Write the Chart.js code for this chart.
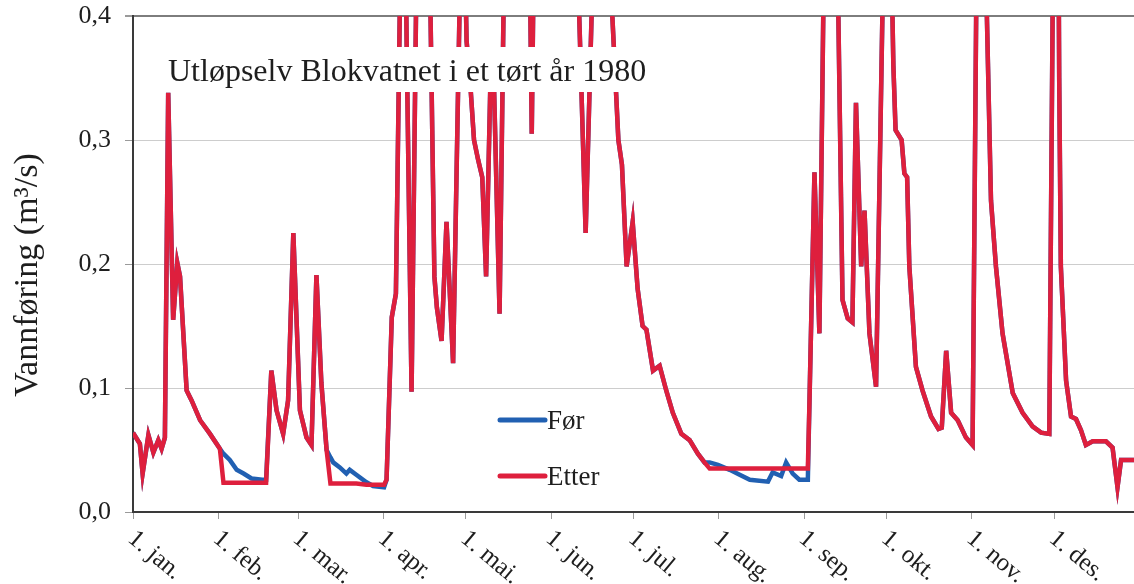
<!DOCTYPE html>
<html lang="no">
<head>
<meta charset="utf-8">
<title>Utløpselv Blokvatnet 1980</title>
<script src="https://cdn.jsdelivr.net/npm/chart.js@4.4.1/dist/chart.umd.min.js"></script>
<style>
  html, body { margin: 0; padding: 0; background: #fff; overflow: hidden; }
  #boks { position: relative; width: 1134px; height: 584px; }
</style>
</head>
<body>
<div id="boks"><canvas id="vannforing"></canvas></div>
<script>
// ============================================
// DATA — døgnverdier (dag nr. fra 1. jan. 1980) i m³/s
// Før og Etter er like utenom lavvannsperiodene
// ============================================
const dager = [
  0, 2.5, 3.5, 5.6, 7.4, 9.2, 10.4, 11.6, 12.8, 14.6, 16.1, 17.1, 19.5, 21.3, 24.4, 28.0,
  31.6, 32.9, 35.2, 37.7, 40.2, 43.1, 47.0, 48.4,
  50.3, 52.2, 54.6, 56.4, 58.3, 60.7, 63.1, 64.9, 66.7, 68.5,
  70.4, 71.8, 72.8, 75.2, 77.6, 78.8, 81.2, 84.9, 87.3, 91.3,
  92.2, 94.1, 95.6, 97.3, 98.3, 99.5, 101.3, 102.9, 104.5, 105.5, 108.2, 109.6, 110.5,
  112.2, 114.0, 116.4, 118.7, 119.8, 121.3, 122.8, 124.0, 125.5, 127.0, 128.4, 130.2,
  131.2, 133.3, 135.0, 136.5, 141.0, 144.0, 145.0, 146.0, 150.0, 158.0, 162.0, 164.6,
  167.0, 169.0, 172.5, 174.3, 176.5, 177.8, 179.5, 181.7, 183.5, 185.3, 186.7, 189.1,
  191.5, 193.9, 196.3, 199.4, 202.4, 205.4,
  207.8, 209.7, 212.7, 217.0, 220.6, 224.3, 230.9, 232.6, 235.7, 237.5, 239.9, 242.3, 245.4,
  246.0, 247.8, 249.6, 251.0, 253.5, 256.5, 258.0, 259.9, 261.6, 262.9, 264.8, 266.0,
  267.8, 270.2, 272.5, 274.5, 276.5, 277.3, 279.5, 280.5, 281.5, 282.3, 284.7, 287.1,
  290.2, 292.9, 294.1, 295.7, 297.5, 299.9, 302.9, 305.3, 306.6, 308.5, 310.5, 312.0,
  313.8, 316.2, 319.9, 323.5, 327.1, 330.2, 333.2, 334.4, 335.5, 336.8, 337.4, 339.3,
  341.1, 342.9, 344.7, 346.5, 349.0, 353.8, 356.2, 358.0, 359.3, 364.0
];

const foer = [
  0.064, 0.055, 0.031, 0.062, 0.048, 0.058, 0.051, 0.060, 0.338, 0.155, 0.201, 0.190, 0.098, 0.090, 0.074, 0.063,
  0.051, 0.047, 0.042, 0.034, 0.031, 0.027, 0.026, 0.026,
  0.114, 0.082, 0.063, 0.090, 0.225, 0.082, 0.060, 0.054, 0.191, 0.104,
  0.050, 0.044, 0.040, 0.036, 0.031, 0.034, 0.030, 0.024, 0.021, 0.020,
  0.026, 0.157, 0.176, 0.45, 0.60, 0.38, 0.097, 0.40, 0.70, 0.80, 0.40, 0.19, 0.165,
  0.138, 0.234, 0.120, 0.40, 0.55, 0.38, 0.34, 0.30, 0.284, 0.270, 0.190, 0.370,
  0.350, 0.160, 0.45, 0.85, 0.90, 0.50, 0.305, 0.50, 0.95, 0.90, 0.42, 0.225,
  0.42, 0.80, 0.55, 0.40, 0.300, 0.280, 0.198, 0.234, 0.180, 0.150, 0.147, 0.114,
  0.118, 0.098, 0.080, 0.063, 0.058, 0.047,
  0.040, 0.040, 0.038, 0.034, 0.030, 0.026, 0.0245, 0.032, 0.029, 0.040, 0.031, 0.026, 0.026,
  0.090, 0.274, 0.144, 0.40, 0.65, 0.40, 0.171, 0.156, 0.153, 0.330, 0.198, 0.243,
  0.144, 0.101, 0.40, 0.60, 0.36, 0.308, 0.300, 0.273, 0.270, 0.198, 0.117, 0.098,
  0.077, 0.067, 0.068, 0.130, 0.080, 0.074, 0.060, 0.054, 0.40, 0.65, 0.40, 0.251,
  0.198, 0.144, 0.096, 0.080, 0.069, 0.064, 0.063, 0.40, 0.90, 0.35, 0.198, 0.106,
  0.077, 0.075, 0.066, 0.054, 0.057, 0.057, 0.052, 0.020, 0.042, 0.042
];

const etter = [
  0.064, 0.055, 0.031, 0.062, 0.048, 0.058, 0.051, 0.060, 0.338, 0.155, 0.201, 0.190, 0.098, 0.090, 0.074, 0.063,
  0.051, 0.0235, 0.0235, 0.0235, 0.0235, 0.0235, 0.0235, 0.0235,
  0.114, 0.082, 0.063, 0.090, 0.225, 0.082, 0.060, 0.054, 0.191, 0.104,
  0.050, 0.023, 0.023, 0.023, 0.023, 0.023, 0.023, 0.022, 0.022, 0.022,
  0.026, 0.157, 0.176, 0.45, 0.60, 0.38, 0.097, 0.40, 0.70, 0.80, 0.40, 0.19, 0.165,
  0.138, 0.234, 0.120, 0.40, 0.55, 0.38, 0.34, 0.30, 0.284, 0.270, 0.190, 0.370,
  0.350, 0.160, 0.45, 0.85, 0.90, 0.50, 0.305, 0.50, 0.95, 0.90, 0.42, 0.225,
  0.42, 0.80, 0.55, 0.40, 0.300, 0.280, 0.198, 0.234, 0.180, 0.150, 0.147, 0.114,
  0.118, 0.098, 0.080, 0.063, 0.058, 0.047,
  0.040, 0.035, 0.035, 0.035, 0.035, 0.035, 0.035, 0.035, 0.035, 0.035, 0.035, 0.035, 0.035,
  0.090, 0.274, 0.144, 0.40, 0.65, 0.40, 0.171, 0.156, 0.153, 0.330, 0.198, 0.243,
  0.144, 0.101, 0.40, 0.60, 0.36, 0.308, 0.300, 0.273, 0.270, 0.198, 0.117, 0.098,
  0.077, 0.067, 0.068, 0.130, 0.080, 0.074, 0.060, 0.054, 0.40, 0.65, 0.40, 0.251,
  0.198, 0.144, 0.096, 0.080, 0.069, 0.064, 0.063, 0.40, 0.90, 0.35, 0.198, 0.106,
  0.077, 0.075, 0.066, 0.054, 0.057, 0.057, 0.052, 0.020, 0.042, 0.042
];

// 1. i hver måned (1980 er skuddår)
const manedStart = [0, 31, 60, 91, 121, 152, 182, 213, 244, 274, 305, 335];
const manedNavn = ["1. jan.", "1. feb.", "1. mar.", "1. apr.", "1. mai.", "1. jun.",
                   "1. jul.", "1. aug.", "1. sep.", "1. okt.", "1. nov.", "1. des."];
const yTikker = [0, 0.1, 0.2, 0.3, 0.4];

const tittel = "Utløpselv Blokvatnet i et tørt år 1980";
const yTittel = "Vannføring (m³/s)";

const BLA = "#2160b2";
const ROD = "#de1f3d";
const SERIF = "'Liberation Serif', 'DejaVu Serif', serif";
const TEKST = "#1e1e1e";

// ============================================
// TEKST-PLUGIN — tittelboks, forklaring, skrå månedsnavn, y-tittel
// ============================================
const tekstPlugin = {
  id: "tekstPlugin",
  afterDatasetsDraw(chart) {
    const ctx = chart.ctx;
    ctx.save();
    // hvit boks bak tittelen skjuler kurvene
    ctx.fillStyle = "#fff";
    ctx.fillRect(164, 47, 484, 45);
    ctx.fillStyle = TEKST;
    ctx.font = `32px ${SERIF}`;
    ctx.textAlign = "left";
    ctx.textBaseline = "alphabetic";
    ctx.fillText(tittel, 168, 81);

    // forklaring
    const serier = chart.data.datasets;
    const rader = [420, 476];
    ctx.lineCap = "round";
    ctx.font = `27px ${SERIF}`;
    serier.forEach((ds, i) => {
      const y = rader[i];
      ctx.strokeStyle = ds.borderColor;
      ctx.lineWidth = 5;
      ctx.beginPath();
      ctx.moveTo(500, y);
      ctx.lineTo(545, y);
      ctx.stroke();
      ctx.fillStyle = TEKST;
      ctx.fillText(ds.label, 547, y + 9);
    });
    ctx.restore();
  },
  afterDraw(chart) {
    const ctx = chart.ctx;
    const xs = chart.scales.x;
    const area = chart.chartArea;
    ctx.save();
    ctx.fillStyle = TEKST;
    ctx.font = `25px ${SERIF}`;
    ctx.textAlign = "left";
    ctx.textBaseline = "top";
    manedStart.forEach((d, i) => {
      const x = xs.getPixelForValue(d);
      ctx.save();
      ctx.translate(x + 6, area.bottom + 14);
      ctx.rotate(40 * Math.PI / 180);
      ctx.fillText(manedNavn[i], 0, 0);
      ctx.restore();
    });

    // y-aksens tittel
    ctx.save();
    ctx.translate(37, 275);
    ctx.rotate(-Math.PI / 2);
    ctx.textAlign = "center";
    ctx.textBaseline = "alphabetic";
    ctx.font = `34px ${SERIF}`;
    ctx.fillText(yTittel, 0, 0);
    ctx.restore();
    ctx.restore();
  }
};

function punkter(verdier) {
  return dager.map((d, i) => ({ x: d, y: verdier[i] }));
}

const chart = new Chart(document.getElementById("vannforing"), {
  type: "line",
  data: {
    datasets: [
      { label: "Før", data: punkter(foer), borderColor: BLA, backgroundColor: BLA,
        borderWidth: 4.5, pointRadius: 0, tension: 0, clip: 0, order: 2 },
      { label: "Etter", data: punkter(etter), borderColor: ROD, backgroundColor: ROD,
        borderWidth: 4.5, pointRadius: 0, tension: 0, clip: 0, order: 1 }
    ]
  },
  options: {
    animation: false,
    responsive: true,
    maintainAspectRatio: false,
    layout: { padding: { top: 16, right: 0, bottom: 0, left: 0 } },
    plugins: { legend: { display: false }, tooltip: { enabled: false } },
    scales: {
      x: {
        type: "linear",
        min: 0,
        max: 364,
        afterBuildTicks: s => { s.ticks = manedStart.map(v => ({ value: v })); },
        afterFit: s => { s.height = 72; s.paddingLeft = 0; s.paddingRight = 0; },
        ticks: { display: false },
        grid: { drawOnChartArea: false, tickLength: 7, color: "#9a9a9a" },
        border: { color: "#3a3a3a", width: 2 }
      },
      y: {
        min: 0,
        max: 0.4,
        afterBuildTicks: s => { s.ticks = yTikker.map(v => ({ value: v })); },
        afterFit: s => { s.width = 133; s.paddingTop = 0; s.paddingBottom = 0; },
        ticks: {
          callback: v => v.toFixed(1).replace(".", ","),
          font: { family: SERIF, size: 26 },
          color: TEKST,
          padding: 14
        },
        grid: {
          color: c => (c.tick && c.tick.value === 0.4) ? "#7d7d7d" : "#cdcdcd",
          lineWidth: c => (c.tick && c.tick.value === 0.4) ? 2 : 1,
          tickLength: 8,
          tickColor: "#9a9a9a"
        },
        border: { color: "#3a3a3a", width: 2 }
      }
    }
  },
  plugins: [tekstPlugin]
});
</script>
</body>
</html>
